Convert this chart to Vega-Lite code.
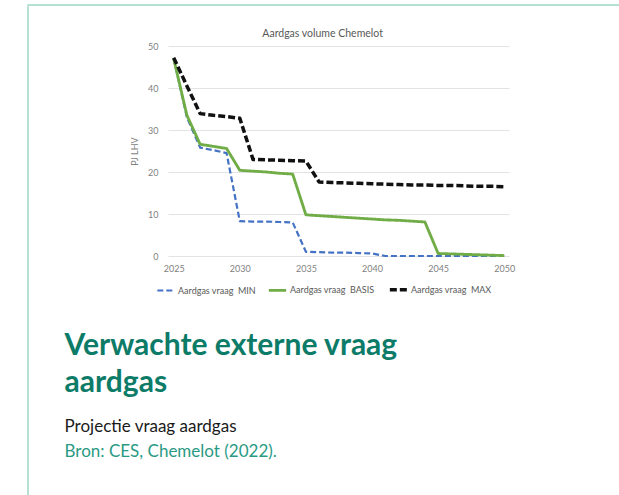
{
  "$schema": "https://vega.github.io/schema/vega-lite/v6.json",
  "padding": {"left": 27, "top": 4, "right": 0, "bottom": 0},
  "background": "white",
  "spacing": 0,
  "config": {"view": {"stroke": null}, "font": "Lato"},
  "vconcat": [
    {"width": 591, "height": 0.001, "data": {"values": []}, "mark": "point", "view": {"stroke": "#9ad8c3", "strokeWidth": 1.5}},
    {
      "spacing": 35,
      "hconcat": [
        {"width": 0.001, "height": 491, "data": {"values": []}, "mark": "point", "view": {"stroke": "#9ad8c3", "strokeWidth": 1.5}},
        {
          "spacing": 20,
          "title": {"text": "Bron: CES, Chemelot (2022).", "orient": "bottom", "anchor": "start", "frame": "bounds", "font": "Lato", "fontSize": 17, "fontWeight": "normal", "color": "#2a9a84", "offset": 9},
          "vconcat": [
            {"width": 0.001, "height": 0.001, "data": {"values": []}, "mark": "point"},
            {
              "title": {"text": ["Verwachte externe vraag", "aardgas"], "subtitle": "Projectie vraag aardgas", "orient": "bottom", "anchor": "start", "frame": "bounds", "dx": -66, "font": "Lato", "fontSize": 30, "fontWeight": "bold", "color": "#0c7b67", "lineHeight": 37, "offset": 58, "subtitleFont": "Lato", "subtitleFontSize": 17, "subtitleColor": "#1a1a1a", "subtitlePadding": 21, "subtitleLineHeight": 20},
              "vconcat": [
                {
                  "width": 341,
                  "height": 210,
                  "title": {"text": "Aardgas volume Chemelot", "font": "Lato", "fontSize": 10.5, "fontWeight": "normal", "color": "#595959", "anchor": "middle", "frame": "bounds", "offset": 3},
                  "data": {"values": [
                    {"year": 2025, "MIN": 47.0, "BASIS": 47.0, "MAX": 47.2},
                    {"year": 2026, "MIN": 33.0, "BASIS": 33.5, "MAX": 40.5},
                    {"year": 2027, "MIN": 25.8, "BASIS": 26.6, "MAX": 33.9},
                    {"year": 2028, "MIN": 25.2, "BASIS": 26.1, "MAX": 33.5},
                    {"year": 2029, "MIN": 24.5, "BASIS": 25.6, "MAX": 33.2},
                    {"year": 2030, "MIN": 8.3, "BASIS": 20.4, "MAX": 32.8},
                    {"year": 2031, "MIN": 8.2, "BASIS": 20.2, "MAX": 23.0},
                    {"year": 2032, "MIN": 8.2, "BASIS": 20.0, "MAX": 22.9},
                    {"year": 2033, "MIN": 8.1, "BASIS": 19.7, "MAX": 22.8},
                    {"year": 2034, "MIN": 8.0, "BASIS": 19.5, "MAX": 22.7},
                    {"year": 2035, "MIN": 1.0, "BASIS": 9.8, "MAX": 22.6},
                    {"year": 2036, "MIN": 0.9, "BASIS": 9.6, "MAX": 17.6},
                    {"year": 2037, "MIN": 0.8, "BASIS": 9.4, "MAX": 17.5},
                    {"year": 2038, "MIN": 0.8, "BASIS": 9.2, "MAX": 17.4},
                    {"year": 2039, "MIN": 0.7, "BASIS": 9.0, "MAX": 17.3},
                    {"year": 2040, "MIN": 0.6, "BASIS": 8.8, "MAX": 17.2},
                    {"year": 2041, "MIN": 0.0, "BASIS": 8.6, "MAX": 17.1},
                    {"year": 2042, "MIN": 0.0, "BASIS": 8.5, "MAX": 17.0},
                    {"year": 2043, "MIN": 0.0, "BASIS": 8.3, "MAX": 16.9},
                    {"year": 2044, "MIN": 0.0, "BASIS": 8.1, "MAX": 16.9},
                    {"year": 2045, "MIN": 0.0, "BASIS": 0.6, "MAX": 16.8},
                    {"year": 2046, "MIN": 0.0, "BASIS": 0.5, "MAX": 16.8},
                    {"year": 2047, "MIN": 0.0, "BASIS": 0.4, "MAX": 16.7},
                    {"year": 2048, "MIN": 0.0, "BASIS": 0.3, "MAX": 16.6},
                    {"year": 2049, "MIN": 0.0, "BASIS": 0.2, "MAX": 16.6},
                    {"year": 2050, "MIN": 0.0, "BASIS": 0.1, "MAX": 16.5}
                  ]},
                  "transform": [
                    {"fold": ["MIN", "BASIS", "MAX"], "as": ["key", "value"]},
                    {"lookup": "key", "from": {"data": {"values": [
                      {"key": "MIN", "series": "Aardgas vraag\u00a0 MIN"},
                      {"key": "BASIS", "series": "Aardgas vraag\u00a0 BASIS"},
                      {"key": "MAX", "series": "Aardgas vraag\u00a0 MAX"}
                    ]}, "key": "key", "fields": ["series"]}}
                  ],
                  "mark": {"type": "line", "strokeCap": "butt", "strokeJoin": "round"},
                  "encoding": {
                    "x": {"field": "year", "type": "quantitative", "scale": {"domain": [2024.57, 2050.36], "nice": false, "zero": false},
                      "axis": {"values": [2025, 2030, 2035, 2040, 2045, 2050], "format": "d", "title": null, "grid": false, "domain": false, "ticks": false, "labelFont": "Lato", "labelFontSize": 9, "labelColor": "#7f7f7f", "labelPadding": 8}},
                    "y": {"field": "value", "type": "quantitative", "scale": {"domain": [0, 50], "nice": false},
                      "axis": {"values": [0, 10, 20, 30, 40, 50], "title": "PJ LHV", "titleFont": "Lato", "titleFontSize": 9, "titleFontWeight": "normal", "titleColor": "#7f7f7f", "titlePadding": 8, "grid": true, "gridColor": "#e3e3e3", "domain": false, "ticks": false, "labelFont": "Lato", "labelFontSize": 9, "labelColor": "#7f7f7f", "labelPadding": 10}},
                    "color": {"field": "series", "type": "nominal",
                      "scale": {"domain": ["Aardgas vraag\u00a0 MIN", "Aardgas vraag\u00a0 BASIS", "Aardgas vraag\u00a0 MAX"], "range": ["#4472c4", "#70ad47", "#111111"]},
                      "legend": {"orient": "none", "legendX": 128, "legendY": 274, "direction": "horizontal", "title": null, "labelFont": "Lato", "labelFontSize": 9, "labelColor": "#595959", "symbolType": "stroke", "symbolSize": 300, "symbolStrokeWidth": 2.5, "columnPadding": 7, "labelOffset": 2}},
                    "strokeDash": {"field": "series", "type": "nominal",
                      "scale": {"domain": ["Aardgas vraag\u00a0 MIN", "Aardgas vraag\u00a0 BASIS", "Aardgas vraag\u00a0 MAX"], "range": [[6, 3], [1, 0], [7, 3]]}},
                    "strokeWidth": {"field": "series", "type": "nominal",
                      "scale": {"domain": ["Aardgas vraag\u00a0 MIN", "Aardgas vraag\u00a0 BASIS", "Aardgas vraag\u00a0 MAX"], "range": [2.2, 3.5, 2.2]}}
                  }
                }
              ]
            }
          ]
        }
      ]
    }
  ]
}
